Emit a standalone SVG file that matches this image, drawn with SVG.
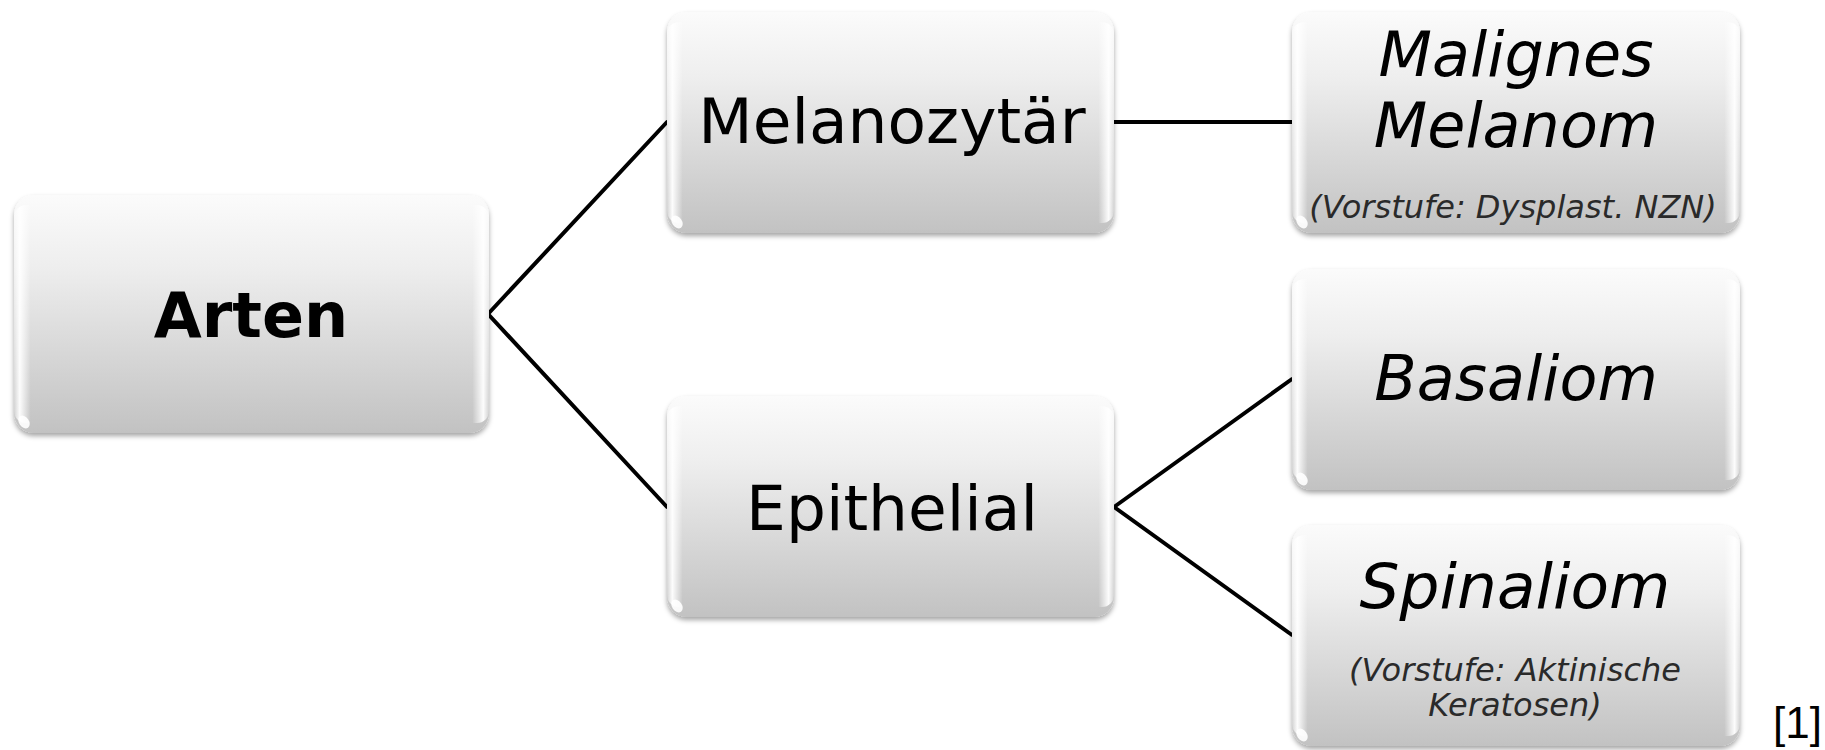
<svg xmlns="http://www.w3.org/2000/svg" width="1825" height="750" viewBox="0 0 1825 750">
<style>
.box{fill:url(#gv);filter:url(#sh);}
.gl{fill:url(#gh);}
.spot{fill:#ffffff;opacity:0.9;}
.conn{stroke:#000;stroke-width:4;fill:none;stroke-linecap:round;}
.t{font-family:"DejaVu Sans",Verdana,sans-serif;fill:#000;text-anchor:middle;}
.b{font-weight:bold;font-size:62px;}
.n{font-size:63px;}
.i{font-style:italic;font-size:62px;}
.s{font-style:italic;font-size:32px;fill:#2a2a2a;}
.ref{font-family:"Liberation Sans",Arial,sans-serif;font-size:44px;fill:#000;}
</style>
<defs>
<linearGradient id="gv" x1="0" y1="0" x2="0" y2="1">
<stop offset="0" stop-color="#fbfbfb"/>
<stop offset="0.3" stop-color="#eeeeee"/>
<stop offset="1" stop-color="#c2c2c2"/>
</linearGradient>
<linearGradient id="gh" x1="0" y1="0" x2="1" y2="0">
<stop offset="0" stop-color="#ffffff" stop-opacity="0.2"/>
<stop offset="0.012" stop-color="#ffffff" stop-opacity="0.95"/>
<stop offset="0.035" stop-color="#ffffff" stop-opacity="0"/>
<stop offset="0.965" stop-color="#ffffff" stop-opacity="0"/>
<stop offset="0.988" stop-color="#ffffff" stop-opacity="0.95"/>
<stop offset="1" stop-color="#ffffff" stop-opacity="0.2"/>
</linearGradient>
<filter id="sh" x="-5%" y="-5%" width="110%" height="115%">
<feDropShadow dx="0" dy="3" stdDeviation="2.5" flood-color="#000" flood-opacity="0.35"/>
</filter>
</defs>
<rect width="1825" height="750" fill="#ffffff"/>
<g id="connectors">
<line class="conn" x1="488" y1="314" x2="667" y2="122"/>
<line class="conn" x1="488" y1="314" x2="667" y2="507"/>
<line class="conn" x1="1114" y1="122" x2="1292" y2="122"/>
<line class="conn" x1="1114" y1="507" x2="1292" y2="379"/>
<line class="conn" x1="1114" y1="507" x2="1292" y2="635"/>
</g>
<g id="node-arten">
<rect class="box" x="14" y="195" width="475" height="238" rx="20"/>
<rect class="gl" x="14" y="205" width="475" height="218" rx="12"/>
<ellipse class="spot" cx="24" cy="422" rx="5" ry="7" transform="rotate(-35 24 422)"/>
<text class="t b" x="251" y="337">Arten</text>
</g>
<g id="node-melanozytaer">
<rect class="box" x="667" y="12" width="447" height="221" rx="20"/>
<rect class="gl" x="667" y="22" width="447" height="201" rx="12"/>
<ellipse class="spot" cx="677" cy="222" rx="5" ry="7" transform="rotate(-35 677 222)"/>
<text class="t n" x="892" y="143">Melanozytär</text>
</g>
<g id="node-epithelial">
<rect class="box" x="667" y="396" width="447" height="221" rx="20"/>
<rect class="gl" x="667" y="406" width="447" height="201" rx="12"/>
<ellipse class="spot" cx="677" cy="606" rx="5" ry="7" transform="rotate(-35 677 606)"/>
<text class="t n" x="892" y="530">Epithelial</text>
</g>
<g id="node-malignes-melanom">
<rect class="box" x="1292" y="12" width="448" height="221" rx="20"/>
<rect class="gl" x="1292" y="22" width="448" height="201" rx="12"/>
<ellipse class="spot" cx="1302" cy="222" rx="5" ry="7" transform="rotate(-35 1302 222)"/>
<text class="t i" x="1516" y="76">Malignes</text>
<text class="t i" x="1516" y="147">Melanom</text>
<text class="t s" x="1513" y="218">(Vorstufe: Dysplast. NZN)</text>
</g>
<g id="node-basaliom">
<rect class="box" x="1292" y="269" width="448" height="221" rx="20"/>
<rect class="gl" x="1292" y="279" width="448" height="201" rx="12"/>
<ellipse class="spot" cx="1302" cy="479" rx="5" ry="7" transform="rotate(-35 1302 479)"/>
<text class="t i" x="1516" y="400">Basaliom</text>
</g>
<g id="node-spinaliom">
<rect class="box" x="1292" y="525" width="448" height="221" rx="20"/>
<rect class="gl" x="1292" y="535" width="448" height="201" rx="12"/>
<ellipse class="spot" cx="1302" cy="735" rx="5" ry="7" transform="rotate(-35 1302 735)"/>
<text class="t i" x="1515" y="608" style="font-size:63px">Spinaliom</text>
<text class="t s" x="1515" y="681">(Vorstufe: Aktinische</text>
<text class="t s" x="1515" y="716">Keratosen)</text>
</g>
<text class="ref" x="1773" y="738">[1]</text>
</svg>
